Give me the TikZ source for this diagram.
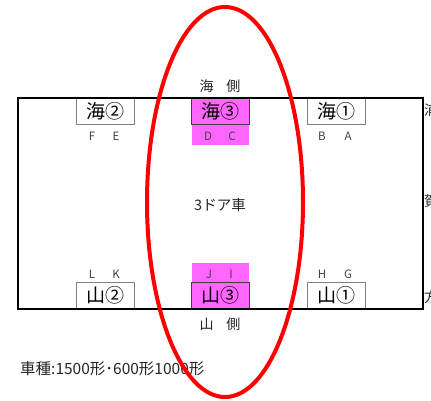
\documentclass[tikz,border=0pt]{standalone}
\usepackage{fontspec}
\setmainfont{Noto Sans CJK JP}
\definecolor{doormag}{RGB}{255,102,255}
\definecolor{boxgray}{RGB}{128,128,128}

\begin{document}
\begin{tikzpicture}[x=1pt,y=-1pt,
		seatbox/.style={draw=boxgray,line width=1pt,fill=white,minimum width=58pt,minimum height=26pt,inner sep=0pt,font=\fontsize{19}{19}\selectfont},
		doorbox/.style={seatbox,draw=black!75,fill=doormag},
		letter/.style={font=\fontsize{11.5}{11.5}\selectfont,text=black!75,inner sep=0pt},
		sidetext/.style={font=\fontsize{14}{14}\selectfont,text=black!85,inner sep=0pt}]
				\useasboundingbox (0,0) rectangle (431,400);

				% magenta door bands
				\fill[doormag] (192,124) rectangle (249,145);
				\fill[doormag] (192,263) rectangle (249,283);

				% seat boxes
				\node[seatbox,anchor=north] (umi2) at (105,98) {海②};
				\node[doorbox,anchor=north] (umi3) at (220,98) {海③};
				\node[seatbox,anchor=north] (umi1) at (336,98) {海①};
				\node[seatbox,anchor=south] (yama2) at (105,309) {山②};
				\node[doorbox,anchor=south] (yama3) at (220,309) {山③};
				\node[seatbox,anchor=south] (yama1) at (336,309) {山①};

				% car body
				\draw[line width=1.3pt] (18,98) rectangle (423,309);

				\foreach \l/\x in {F/92,E/116,D/208,C/232,B/322,A/348} {
					\node[letter] (top-\l) at (\x,136) {\l};
				}
				\foreach \l/\x in {L/92,K/116,J/209,I/231,H/322,G/348} {
					\node[letter] (bot-\l) at (\x,274) {\l};
				}

				\node[sidetext] (umigawa) at (220,86) {海\hspace{0.9em}側};
				\node[sidetext] (yamagawa) at (220,324) {山\hspace{0.9em}側};
				\node[sidetext,font=\fontsize{14.5}{14.5}\selectfont] (door3) at (220,205) {3ドア車};
				\node[sidetext,anchor=west,font=\fontsize{15.5}{15.5}\selectfont] (shashu) at (20,369) {車種:1500形･600形1000形};

				% cut off at the page edge
				\node[sidetext,anchor=west] (ura) at (424,110) {浦};
				\node[sidetext,anchor=west] (ga) at (424,201) {賀};
				\node[sidetext,anchor=west] (kata) at (424,297) {方};

				\draw[red,line width=4pt] (225,202) ellipse [x radius=78,y radius=195];
			\end{tikzpicture}
\end{document}
